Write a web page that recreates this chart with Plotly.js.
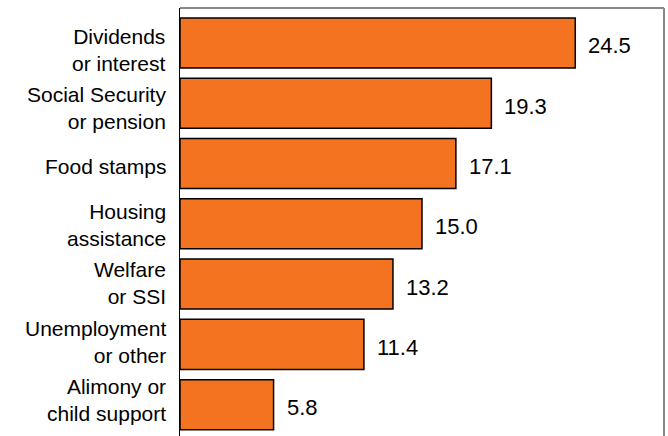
<!DOCTYPE html>
<html>
<head>
<meta charset="utf-8">
<script src="https://cdn.plot.ly/plotly-3.0.1.min.js"></script>
<style>html,body{margin:0;padding:0;background:#fff;}#chart{width:668px;height:436px;}</style>
</head>
<body>
<div id="chart"></div>
<script>
var categories = [
  "Dividends<br>or interest",
  "Social Security<br>or pension",
  "Food stamps",
  "Housing<br>assistance",
  "Welfare<br>or SSI",
  "Unemployment<br>or other",
  "Alimony or<br>child support"
];
var values = [24.5, 19.3, 17.1, 15.0, 13.2, 11.4, 5.8];

var idx = categories.map(function(_, i){ return i; });
var FONT = "Liberation Sans, Arial, sans-serif";

var trace = {
  type: "bar",
  orientation: "h",
  x: values,
  y: idx,
  marker: { color: "#F37321", line: { color: "#000000", width: 1.5 } },
  hoverinfo: "none"
};

var annotations = values.map(function(v, i){
  return {
    x: v, y: i, xref: "x", yref: "y",
    text: v.toFixed(1), showarrow: false,
    xanchor: "left", yanchor: "middle", xshift: 11, yshift: -3,
    font: { family: FONT, size: 22, color: "#000" }
  };
});

// category labels, right-aligned against the axis line
categories.forEach(function(label, i){
  annotations.push({
    x: 0, y: i, xref: "paper", yref: "y",
    text: label, showarrow: false, align: "right",
    xanchor: "right", yanchor: "middle", xshift: -12,
    yshift: -(7.7 - 1.9 * i) + 1,
    font: { family: FONT, size: 21, color: "#000" }
  });
});

var layout = {
  width: 668, height: 436,
  margin: { l: 180, r: 4, t: 8, b: 0, pad: 0 },
  paper_bgcolor: "#fff", plot_bgcolor: "#fff",
  showlegend: false,
  bargap: 0.17,
  xaxis: {
    range: [0, 30], showgrid: false, zeroline: false, showticklabels: false,
    ticks: "", showline: false, fixedrange: true
  },
  yaxis: {
    range: [6.52, -0.58], tickmode: "array", tickvals: idx, ticktext: categories,
    showticklabels: false,
    showgrid: false, zeroline: false, ticks: "", showline: true, linecolor: "#000", linewidth: 1.5,
    fixedrange: true
  },
  shapes: [
    { type: "line", xref: "paper", yref: "paper", x0: 0, x1: 1, y0: 1, y1: 1, line: { color: "#888", width: 2 } },
    { type: "line", xref: "paper", yref: "paper", x0: 1, x1: 1, y0: 0, y1: 1, line: { color: "#888", width: 2 } }
  ],
  annotations: annotations
};

Plotly.newPlot("chart", [trace], layout, { displayModeBar: false, staticPlot: true });
</script>
</body>
</html>
